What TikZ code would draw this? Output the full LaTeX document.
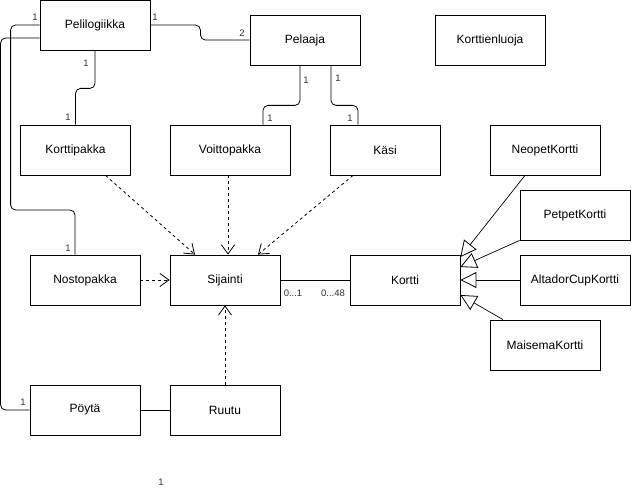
\documentclass[tikz,border=0pt]{standalone}
\usepackage{fontspec}
\setmainfont{Liberation Sans}
\usetikzlibrary{arrows.meta,calc}
\begin{document}
\begin{tikzpicture}[x=1pt,y=-1pt,
  cls/.style={draw,line width=0.8pt,minimum width=110pt,minimum height=50pt,inner sep=0pt,font=\fontsize{12}{14}\selectfont},
  lbl/.style={font=\fontsize{9.5}{11}\selectfont,text=black!80,inner sep=0pt},
  assoc/.style={line width=0.8pt,rounded corners=5pt},
  dep/.style={line width=0.8pt,dashed,dash pattern=on 3pt off 3pt,-{Straight Barb[length=9pt,width=13pt,line width=0.8pt]}},
  inh/.style={line width=0.7pt,-{Triangle[open,length=16pt,width=16pt,line width=0.8pt]}}]
\useasboundingbox (0,0) rectangle (632,492);
% classes
\node[cls] (pl) at (95,25) {Pelilogiikka};
\node[cls] (pe) at (305,40) {Pelaaja};
\node[cls] (kl) at (490,40) {Korttienluoja};
\node[cls] (kp) at (75.5,150) {Korttipakka};
\node[cls,minimum width=120pt] (vp) at (230,150) {Voittopakka};
\node[cls] (ka) at (385,150) {Käsi};
\node[cls] (nk) at (545,150) {NeopetKortti};
\node[cls] (pk) at (575,215) {PetpetKortti};
\node[cls] (ak) at (575,280) {AltadorCupKortti};
\node[cls] (mk) at (545,345) {MaisemaKortti};
\node[cls] (kt) at (405,280) {Kortti};
\node[cls] (np) at (85,280) {Nostopakka};
\node[cls] (sj) at (225,280) {Sijainti};
\node[cls] (po) at (85,410) {Pöytä};
\node[cls] (ru) at (225,410) {Ruutu};
% associations
\draw[assoc] (pl.east) -- ++(50,0) |- (pe.west);
\draw[assoc] (pl.south) -- ++(0,38) -| (kp.north);
\draw[assoc] ($(pe.south)+(-5,0)$) -- ++(0,40) -| ($(vp.north)+(33,0)$);
\draw[assoc] ($(pe.south)+(26,0)$) -- ++(0,40) -| ($(ka.north)+(-27,0)$);
\draw[assoc] (pl.west) -- ++(-29,0) -- ++(0,185) -| ($(np.north)+(-10,0)$);
\draw[assoc] ($(pl.west)+(0,13)$) -- ++(-39,0) |- (po.west);
\draw[line width=0.8pt] (sj.east) -- (kt.west);
\draw[line width=0.8pt] (po.east) -- (ru.west);
% dependencies
\draw[dep] ($(kp.south)+(30,0)$) -- ($(sj.north)+(-30,0)$);
\draw[dep] ($(vp.south)+(-2,0)$) -- ($(sj.north)+(3,0)$);
\draw[dep] ($(ka.south)+(-32,0)$) -- ($(sj.north)+(33,0)$);
\draw[dep] (np.east) -- (sj.west);
\draw[dep] (ru.north) -- (sj.south);
% inheritance
\draw[inh] ($(nk.south)+(-20,0)$) -- ($(kt.east)+(0,-23)$);
\draw[inh] (pk.south west) -- ($(kt.east)+(0,-13)$);
\draw[inh] (ak.west) -- (kt.east);
\draw[inh] ($(mk.north)+(-42,0)$) -- ($(kt.east)+(0,15)$);
% multiplicity labels
\node[lbl] (l1) at (35,17) {1};
\node[lbl] (l2) at (155,17) {1};
\node[lbl] (l3) at (242,33) {2};
\node[lbl] (l4) at (86,63) {1};
\node[lbl] (l5) at (68,117) {1};
\node[lbl] (l6) at (306,80) {1};
\node[lbl] (l7) at (338,78) {1};
\node[lbl] (l8) at (270,118) {1};
\node[lbl] (l9) at (350,118) {1};
\node[lbl] (l10) at (68,248) {1};
\node[lbl] (l11) at (23,402) {1};
\node[lbl] (l12) at (161,482) {1};
\node[lbl] (l13) at (293,293) {0...1};
\node[lbl] (l14) at (333,293) {0...48};
\end{tikzpicture}
\end{document}
